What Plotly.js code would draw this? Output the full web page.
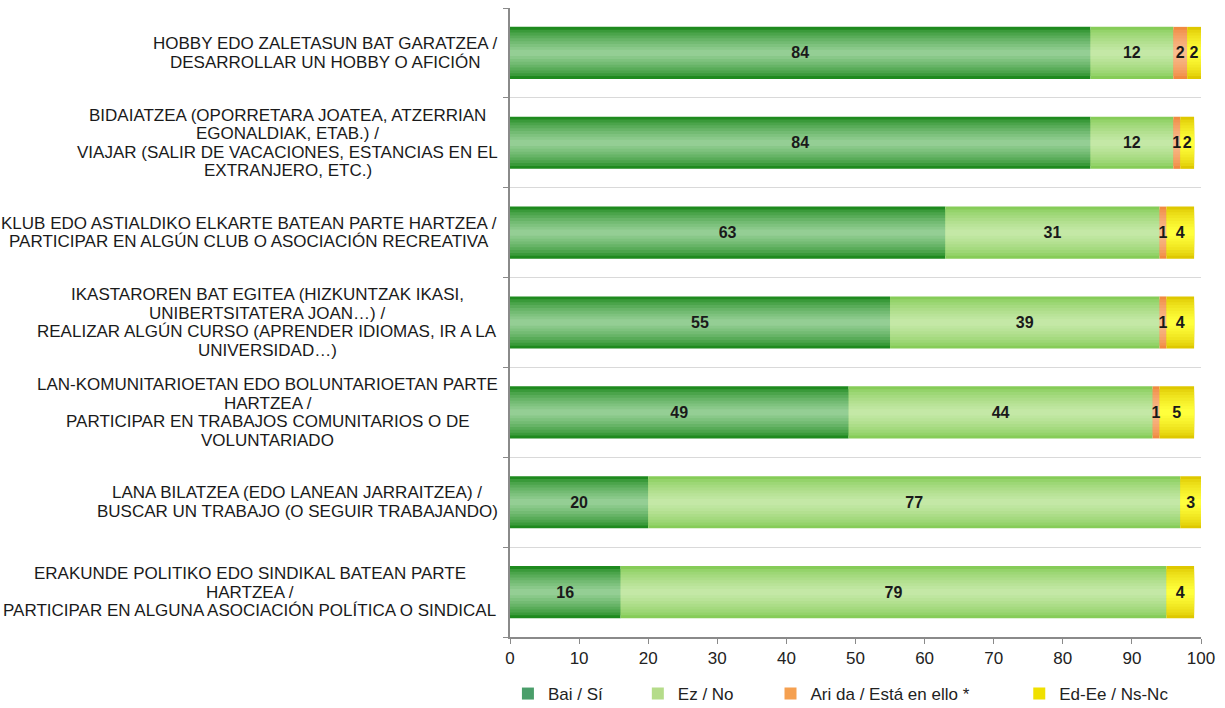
<!DOCTYPE html>
<html>
<head>
<meta charset="utf-8">
<script src="https://cdn.plot.ly/plotly-3.0.1.min.js"></script>
<style>html,body{margin:0;padding:0;background:#fff;}#chart{width:1225px;height:708px;}</style>
</head>
<body>
<div id="chart"></div>
<script>
const categories = [
  ["HOBBY EDO ZALETASUN BAT GARATZEA /", "DESARROLLAR UN HOBBY O AFICIÓN"],
  ["BIDAIATZEA (OPORRETARA JOATEA, ATZERRIAN", "EGONALDIAK, ETAB.) /", "VIAJAR (SALIR DE VACACIONES, ESTANCIAS EN EL", "EXTRANJERO, ETC.)"],
  ["KLUB EDO ASTIALDIKO ELKARTE BATEAN PARTE HARTZEA /", "PARTICIPAR EN ALGÚN CLUB O ASOCIACIÓN RECREATIVA"],
  ["IKASTAROREN BAT EGITEA (HIZKUNTZAK IKASI,", "UNIBERTSITATERA JOAN…) /", "REALIZAR ALGÚN CURSO (APRENDER IDIOMAS, IR A LA", "UNIVERSIDAD…)"],
  ["LAN-KOMUNITARIOETAN EDO BOLUNTARIOETAN PARTE", "HARTZEA /", "PARTICIPAR EN TRABAJOS COMUNITARIOS O DE", "VOLUNTARIADO"],
  ["LANA BILATZEA (EDO LANEAN JARRAITZEA) /", "BUSCAR UN TRABAJO (O SEGUIR TRABAJANDO)"],
  ["ERAKUNDE POLITIKO EDO SINDIKAL BATEAN PARTE", "HARTZEA /", "PARTICIPAR EN ALGUNA ASOCIACIÓN POLÍTICA O SINDICAL"]
];
const seriesNames = ["Bai / Sí", "Ez / No", "Ari da / Está en ello *", "Ed-Ee / Ns-Nc"];
const bai = [84, 84, 63, 55, 49, 20, 16];
const ez = [12, 12, 31, 39, 44, 77, 79];
const ari = [2, 1, 1, 1, 1, 0, 0];
const eded = [2, 2, 4, 4, 5, 3, 4];
const xTicks = [0, 10, 20, 30, 40, 50, 60, 70, 80, 90, 100];

// gradient styling: edge colour -> centre colour for each series
const edgeColors = [[30, 138, 30], [134, 204, 88], [240, 138, 64], [222, 200, 0]];
const centreColors = [[148, 206, 148], [196, 232, 166], [249, 186, 140], [255, 255, 60]];
const legendColors = ["#4a9e6a", "#b5dc8a", "#f5a050", "#f0e000"];
const legendX = [-0.003, 0.185, 0.377, 0.737];
const NLAYERS = 9;
const BARW = 0.58;

const series = [bai, ez, ari, eded];
const yIdx = categories.map((c, i) => i);
const FONT = "Liberation Sans, Arial, sans-serif";

function mix(a, b, t) {
  return "rgb(" + a.map((v, i) => Math.round(v + (b[i] - v) * t)).join(",") + ")";
}

// cumulative bases derived from the series
const bases = [];
let run = yIdx.map(() => 0);
series.forEach(vals => {
  bases.push(run.slice());
  run = run.map((r, i) => r + vals[i]);
});

const traces = [];
for (let L = 0; L < NLAYERS; L++) {
  const frac = L / (NLAYERS - 1);
  const w = BARW * (1 - frac * 0.88);
  const t = Math.pow(frac, 0.7);
  series.forEach((vals, k) => {
    const top = L === NLAYERS - 1;
    traces.push({
      type: "bar",
      orientation: "h",
      name: seriesNames[k],
      legend: k === 0 ? "legend" : "legend" + (k + 1),
      showlegend: false,
      x: vals,
      base: bases[k],
      y: yIdx,
      width: w,
      marker: {color: mix(edgeColors[k], centreColors[k], t), line: {width: 0}},
      text: top ? vals.map(v => v === 0 ? "" : String(v)) : undefined,
      textposition: top ? "inside" : "none",
      insidetextanchor: "middle",
      textangle: 0,
      constraintext: "none",
      textfont: {family: FONT, size: 16, color: "#1a1a1a", weight: "bold"},
      hoverinfo: "x+name"
    });
  });
}
// legend entries (one legend per series, so they can be spaced like the original)
series.forEach((vals, k) => {
  traces.push({
    type: "bar", orientation: "h", name: seriesNames[k],
    legend: k === 0 ? "legend" : "legend" + (k + 1),
    x: [null], y: [null], showlegend: true,
    marker: {color: legendColors[k]}, hoverinfo: "skip"
  });
});

// category labels: each line its own annotation, lines centred within the block
const cnv = document.createElement("canvas").getContext("2d");
cnv.font = "17px 'Liberation Sans', Arial, sans-serif";
const PITCH = 18.5;
const annotations = [];
categories.forEach((lines, i) => {
  const blockW = Math.max(...lines.map(s => cnv.measureText(s).width));
  const n = lines.length;
  lines.forEach((s, j) => {
    annotations.push({
      xref: "paper", yref: "y", x: 0, y: i,
      xanchor: "center", yanchor: "middle",
      xshift: -(12 + blockW / 2), yshift: ((n - 1) / 2 - j) * PITCH,
      showarrow: false, text: s,
      font: {family: FONT, size: 17, color: "#1a1a1a"}
    });
  });
});

const legendBase = {
  orientation: "h", xanchor: "left", y: -0.062, yanchor: "top",
  font: {family: FONT, size: 17, color: "#222"}, itemwidth: 30,
  bgcolor: "rgba(0,0,0,0)"
};

const layout = {
  width: 1225, height: 708,
  margin: {l: 510, r: 24, t: 8, b: 71, autoexpand: false},
  barmode: "overlay",
  paper_bgcolor: "#fff", plot_bgcolor: "#fff",
  showlegend: true,
  legend: Object.assign({}, legendBase, {x: legendX[0]}),
  legend2: Object.assign({}, legendBase, {x: legendX[1]}),
  legend3: Object.assign({}, legendBase, {x: legendX[2]}),
  legend4: Object.assign({}, legendBase, {x: legendX[3]}),
  xaxis: {
    range: [0, 100], tickvals: xTicks, ticktext: xTicks.map(String),
    showgrid: false, zeroline: false, showline: true, linecolor: "#8a8a8a", linewidth: 1.5,
    ticks: "outside", ticklen: 5, tickcolor: "#8a8a8a",
    tickfont: {family: FONT, size: 17, color: "#222"}
  },
  yaxis: {
    type: "linear", range: [6.5, -0.5], tickvals: [-0.5, 0.5, 1.5, 2.5, 3.5, 4.5, 5.5, 6.5],
    showticklabels: false, showgrid: true, gridcolor: "#d9d9d9", gridwidth: 1,
    zeroline: false, showline: true, linecolor: "#8a8a8a", linewidth: 2,
    ticks: "outside", ticklen: 5, tickcolor: "#8a8a8a"
  },
  annotations: annotations
};

Plotly.newPlot("chart", traces, layout, {displayModeBar: false, staticPlot: true});
</script>
</body>
</html>
